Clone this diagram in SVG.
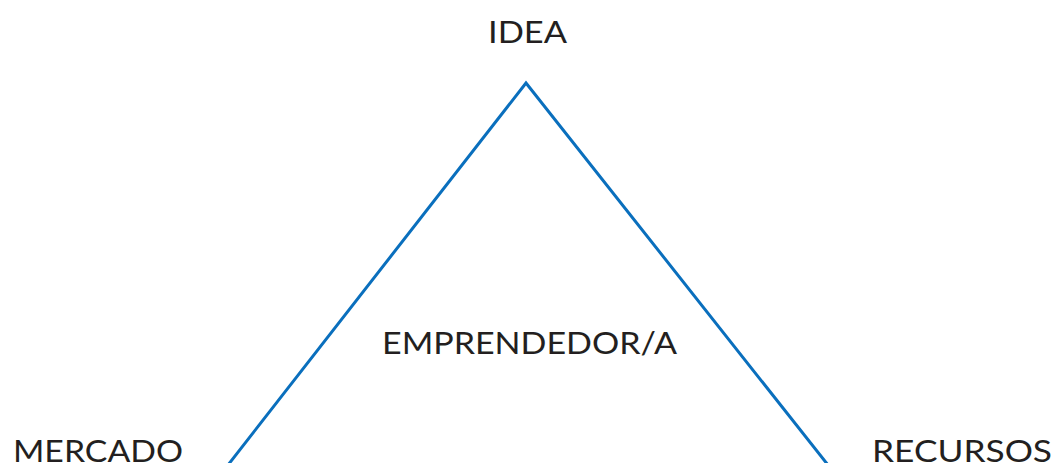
<svg xmlns="http://www.w3.org/2000/svg" width="1056" height="463" viewBox="0 0 1056 463">
<style>
.lbl{font-family:Lato,"Open Sans","Liberation Sans",sans-serif;font-size:31px;fill:#231f20;}
.edge{fill:none;stroke:#0a6fbd;stroke-width:3;stroke-linejoin:miter;}
</style>
<rect width="1056" height="463" fill="#ffffff"/>
<g id="connectors">
<polyline class="edge" points="228,465 526,83 828,465"/>
</g>
<g id="node-idea"><text class="lbl" x="488" y="43" textLength="79" lengthAdjust="spacingAndGlyphs">IDEA</text></g>
<g id="node-emprendedor"><text class="lbl" x="382" y="354" textLength="295" lengthAdjust="spacingAndGlyphs">EMPRENDEDOR/A</text></g>
<g id="node-mercado"><text class="lbl" x="13" y="462" textLength="170" lengthAdjust="spacingAndGlyphs">MERCADO</text></g>
<g id="node-recursos"><text class="lbl" x="872" y="462" textLength="180" lengthAdjust="spacingAndGlyphs">RECURSOS</text></g>
</svg>
